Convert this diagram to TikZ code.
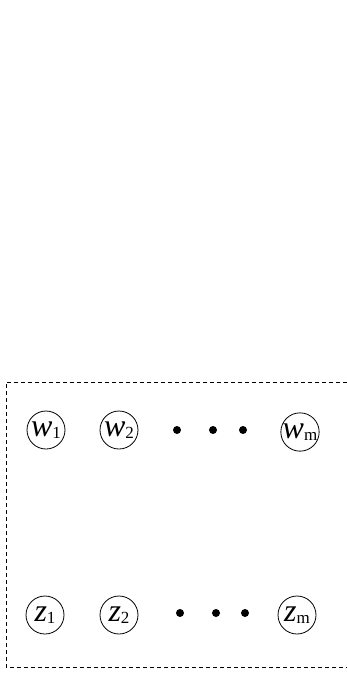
\documentclass[tikz,border=0pt]{standalone}
\usepackage{fontspec}
\setmainfont{Liberation Serif}
\usepackage{tikz}
\usetikzlibrary{positioning}
\newcommand{\varlab}[2]{{\fontsize{32}{32}\selectfont\textit{#1}}{\fontsize{17}{17}\selectfont\raisebox{-2pt}{#2}}}

\begin{document}
\begin{tikzpicture}[x=1pt,y=-1pt,
  varnode/.style={draw,circle,line width=0.8pt,minimum size=38pt,inner sep=0pt},
  ellip/.style={fill=black,circle,inner sep=0pt,minimum size=8pt},
  groupbox/.style={line width=0.8pt,dash pattern=on 4pt off 3pt}]
  \useasboundingbox (0,0) rectangle (347,673);
  \draw[groupbox] (347,382) -- (6,382) -- (6,667) -- (347,667);
  \foreach \x/\y/\nm/\v/\lab in {
    46/430/w1/w/1,119/430/w2/w/2,300/432/wm/w/m,
    45/615/z1/z/1,119/615/z2/z/2,297/615/zm/z/m}
  {
    \node[varnode] (\nm) at (\x,\y) {\varlab{\v}{\lab}};
  }
  \foreach \x/\y/\nm in {177/430/wd1,213/430/wd2,243/430/wd3,
    180/613/zd1,216/613/zd2,245/613/zd3}
  {
    \node[ellip] (\nm) at (\x,\y) {};
  }
\end{tikzpicture}
\end{document}
